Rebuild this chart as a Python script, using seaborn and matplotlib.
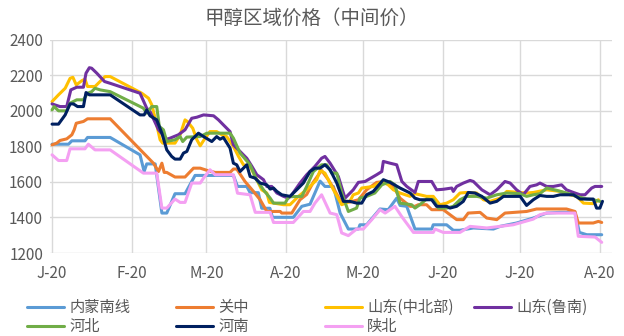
import matplotlib
matplotlib.use("Agg")
import matplotlib.pyplot as plt
import seaborn as sns
import pandas as pd

# Regional methanol mid prices, 2020. x = days since 1 Jan 2020.
regions = ["内蒙南线", "关中", "山东(中北部)", "山东(鲁南)", "河北", "河南", "陕北"]
colors = ["#5B9BD5", "#ED7D31", "#FFC000", "#7030A0", "#70AD47", "#002060", "#F4A0F2"]

month_days = [0, 31, 60, 91, 121, 152, 182, 213]
month_labels = ["J-20", "F-20", "M-20", "A-20", "M-20", "J-20", "J-20", "A-20"]

neimeng_days = [0, 6.4, 7.7, 12.8, 13.8, 22.6, 34.2, 35.8, 36.8, 40.1, 42.7, 44.6, 47.8, 51.7,
                55.6, 70.5, 72.1, 75.7, 77.0, 80.2, 81.5, 84.7, 85.7, 93.8, 97.1, 100.3, 104.2,
                106.1, 109.4, 112, 115.2, 119.1, 119.7, 122.3, 127.5, 130.7, 134, 135.3, 137.9,
                141.1, 147.6, 148.2, 153.4, 156, 158.6, 163.8, 171.6, 174.2, 180.6, 187.1, 192.3,
                197.5, 203.3, 205, 207.9, 213.7]
neimeng_price = [1813, 1813, 1832, 1832, 1851, 1851, 1753, 1659, 1702, 1702, 1425, 1425, 1534, 1534,
                 1637, 1637, 1575, 1575, 1540, 1540, 1452, 1452, 1401, 1401, 1463, 1475, 1605,
                 1575, 1575, 1425, 1335, 1335, 1359, 1359, 1448, 1444, 1509, 1468, 1463,
                 1335, 1335, 1359, 1359, 1328, 1328, 1341, 1335, 1350, 1369, 1397, 1425,
                 1429, 1429, 1316, 1303, 1303]

guanzhong_days = [0, 1.8, 3.1, 5.7, 7.7, 8.6, 9.4, 12.2, 13.8, 22.6, 39.4, 41.4, 42.7, 43.6, 44.6,
                  47.8, 51.7, 55, 57.6, 60.8, 63.4, 69.2, 70.5, 71.8, 75, 78.3, 80.9, 83.5, 88.7,
                  89.3, 93.2, 96.4, 99, 101.6, 104.8, 107.4, 109.4, 112.6, 114.5, 115.8, 119.1,
                  122.3, 126.2, 129.5, 132.7, 135.3, 139.2, 141.1, 142.4, 145.6, 147.6, 152.1,
                  157.3, 159.9, 161.8, 166.4, 169, 172.9, 176.1, 184.5, 188.4, 200, 203.3, 204.6,
                  210.4, 212.4, 213.7]
guanzhong_price = [1809, 1819, 1834, 1843, 1866, 1894, 1931, 1941, 1956, 1956, 1706, 1659, 1706, 1654,
                   1654, 1628, 1628, 1678, 1678, 1663, 1654, 1654, 1673, 1673, 1603, 1547, 1500,
                   1434, 1434, 1425, 1425, 1500, 1530, 1600, 1665, 1613, 1566, 1481, 1491, 1487,
                   1500, 1556, 1598, 1603, 1575, 1509, 1463, 1463, 1472, 1472, 1444, 1444, 1388,
                   1388, 1425, 1429, 1397, 1388, 1425, 1434, 1448, 1448, 1434, 1369, 1369, 1378,
                   1372]

sd_north_days = [0, 2.5, 5.1, 7, 8.1, 9.4, 11.6, 12.8, 13.8, 16.7, 20.6, 22.6, 34.9, 37.5, 38.8,
                 40.7, 42, 43, 47.8, 49.8, 51.7, 52.6, 54.7, 56.3, 57.6, 59.1, 61.4, 64, 66, 67.9,
                 70.5, 72.5, 74.4, 77, 79.6, 81.5, 83.5, 84.5, 90, 92.5, 95.8, 99.7, 102.9, 104.2,
                 106.1, 109.4, 112.6, 115.8, 117.1, 119.1, 120.4, 124.9, 128.2, 130.7, 132.7,
                 135.3, 139.2, 141.1, 143, 145.6, 148.2, 150.8, 153.4, 156, 158.6, 161.2, 165.1,
                 167.7, 170.3, 174.2, 176.8, 184.5, 187.1, 192.3, 197.5, 201.4, 204, 206.6, 210.4,
                 212.4]
sd_north_price = [2053, 2091, 2128, 2184, 2190, 2147, 2171, 2179, 2138, 2138, 2194, 2194, 2100, 2072,
                  2034, 1922, 1838, 1819, 1819, 1866, 1950, 1941, 1903, 1838, 1804, 1838, 1884, 1884,
                  1866, 1856, 1800, 1744, 1697, 1688, 1613, 1556, 1538, 1485, 1472, 1472, 1519,
                  1566, 1613, 1665, 1650, 1556, 1472, 1491, 1528, 1538, 1566, 1575, 1603, 1584,
                  1556, 1538, 1519, 1534, 1528, 1519, 1519, 1472, 1481, 1500, 1538, 1541, 1538,
                  1500, 1491, 1509, 1547, 1538, 1541, 1556, 1547, 1528, 1519, 1481, 1478, 1500]

sd_lunan_days = [0, 1.2, 3.1, 5.7, 7.3, 9.6, 12.2, 13.2, 14.5, 15.4, 17.4, 20.4, 22.6, 34.2, 36.8,
                 38.1, 41.4, 44.6, 45.9, 49.1, 51.7, 54.3, 56.3, 58.9, 62.8, 64.7, 66.6, 69.2, 70.5,
                 73.1, 75.7, 77.7, 79.6, 82.2, 83.5, 85.4, 87.4, 90, 91.9, 93.2, 96.4, 99, 102.2,
                 104.8, 106.1, 108.1, 111.3, 113.9, 117.1, 119.1, 121.7, 126.2, 128.2, 128.8, 131.4,
                 134, 136, 137.9, 141.1, 142.4, 147.6, 149.5, 152.1, 155.4, 156, 157.3, 159.9,
                 162.5, 163.8, 167.1, 170.3, 172.9, 176.1, 178.1, 180.6, 183.2, 185.8, 188.4,
                 189.7, 192.3, 194.9, 198.1, 200, 202.7, 205.3, 207.2, 209.8, 211.1, 213.7]
sd_lunan_price = [2040, 2034, 2025, 2025, 2119, 2134, 2134, 2213, 2244, 2241, 2213, 2166, 2156, 2100,
                  2016, 1997, 1894, 1841, 1847, 1866, 1894, 1959, 1965, 1978, 1973, 1950, 1922, 1884,
                  1809, 1772, 1734, 1688, 1641, 1613, 1575, 1575, 1538, 1519, 1509, 1528, 1594,
                  1641, 1688, 1734, 1744, 1706, 1631, 1509, 1556, 1598, 1603, 1641, 1659, 1716,
                  1706, 1697, 1603, 1575, 1541, 1603, 1603, 1556, 1559, 1566, 1547, 1575, 1594,
                  1609, 1603, 1556, 1528, 1556, 1603, 1594, 1556, 1528, 1575, 1584, 1594, 1575,
                  1575, 1584, 1556, 1541, 1528, 1528, 1566, 1575, 1575]

hebei_days = [0, 0.8, 2.5, 5.7, 7, 9.6, 12.2, 13.8, 15.4, 16.7, 18.7, 22.6, 35.5, 36.8, 38.8, 40.7,
              41.7, 43.3, 44.6, 47.8, 49.8, 50.8, 52.4, 57.6, 60.2, 69.2, 70.5, 73.1, 77, 79.6,
              82.2, 84.8, 86.1, 90.6, 92.0, 97.1, 99, 101.6, 104.8, 106.8, 108.7, 110.7, 112.6,
              115.2, 118.4, 119.7, 122.3, 125.5, 128.2, 131.4, 133.3, 135.3, 139.8, 141.1, 143,
              145.6, 148.2, 150.2, 153.4, 156, 158.6, 161.2, 165.1, 169, 172.9, 176.8, 182, 184.5,
              187.1, 189.7, 192.3, 196.2, 200, 204, 207.9, 210.4, 213]
hebei_price = [2006, 2025, 2001, 2001, 2044, 2063, 2063, 2100, 2109, 2128, 2119, 2109, 2016, 1988,
               2025, 2025, 1913, 1894, 1828, 1838, 1856, 1828, 1853, 1856, 1875, 1875, 1847, 1763,
               1697, 1610, 1556, 1509, 1481, 1481, 1517, 1519, 1575, 1659, 1697, 1697, 1650, 1650,
               1538, 1434, 1453, 1509, 1519, 1538, 1584, 1603, 1584, 1481, 1472, 1453, 1472,
               1504, 1500, 1453, 1453, 1463, 1500, 1519, 1519, 1509, 1528, 1538, 1534, 1519,
               1528, 1534, 1566, 1553, 1538, 1519, 1504, 1500, 1491]

henan_days = [0, 2.5, 5.1, 7, 8.3, 9.9, 12.2, 13.2, 14.5, 22.6, 34.2, 35.8, 36.8, 38.1, 40.7, 42.7,
              44.6, 46.5, 47.8, 49.8, 51.1, 52.4, 54.3, 56.9, 58.9, 62.1, 64, 65.3, 66.6, 69.2, 70.5,
              71.8, 73.1, 75.7, 77, 78.9, 80.9, 83.5, 84.8, 86.1, 87.4, 89.3, 92.5, 95.1, 97.7,
              100.3, 102.2, 104.2, 106.1, 108.1, 110.7, 113.3, 115.8, 118.4, 120.4, 122.3, 124.9,
              128.8, 131.4, 135.3, 139.2, 141.1, 143, 147.6, 149.5, 153.4, 154.7, 157.3, 159.9,
              161.8, 164.4, 167.1, 170.3, 172.9, 175.5, 182, 184.5, 187.1, 189.7, 192.3, 194.9,
              197.5, 202.7, 205.3, 210.4, 211.7, 213, 214]
henan_price = [1926, 1926, 1978, 2040, 2040, 2025, 2025, 2104, 2091, 2091, 1978, 1978, 2006, 1973,
               1950, 1875, 1781, 1744, 1729, 1729, 1763, 1772, 1838, 1875, 1856, 1828, 1856, 1841,
               1851, 1791, 1706, 1697, 1659, 1697, 1631, 1622, 1594, 1584, 1560, 1566, 1547, 1528,
               1519, 1556, 1594, 1659, 1678, 1678, 1697, 1669, 1594, 1491, 1491, 1481, 1481,
               1528, 1547, 1613, 1598, 1566, 1538, 1509, 1500, 1500, 1463, 1463, 1453, 1463,
               1491, 1541, 1538, 1519, 1481, 1491, 1519, 1519, 1468, 1500, 1524, 1519, 1519,
               1528, 1528, 1504, 1504, 1453, 1453, 1491]

shanbei_days = [0, 2.5, 5.7, 7, 12.8, 14.1, 16.7, 22.6, 35.5, 40.7, 42.7, 44.6, 47.8, 49.8, 51.7,
                54.3, 57.6, 58.9, 61.4, 63.4, 70.5, 72.1, 77, 79, 84.8, 86.1, 93.8, 97.7, 100.3,
                102.2, 104.8, 108.1, 110.7, 112.6, 115.2, 118.4, 121, 124.3, 127.5, 129.5, 133.3,
                135.9, 140.5, 148.2, 148.9, 152.1, 158.6, 162.5, 169, 174.2, 179.3, 187.1, 189.7,
                192.3, 203.3, 204.6, 211.1, 213.7]
shanbei_price = [1753, 1721, 1721, 1787, 1787, 1813, 1781, 1781, 1650, 1650, 1453, 1453, 1504, 1485,
                 1485, 1594, 1594, 1622, 1669, 1641, 1641, 1537, 1528, 1429, 1429, 1372, 1372,
                 1434, 1434, 1481, 1528, 1425, 1416, 1313, 1298, 1335, 1335, 1388, 1444, 1425,
                 1463, 1406, 1316, 1316, 1335, 1316, 1316, 1350, 1341, 1350, 1359, 1391, 1416,
                 1425, 1425, 1294, 1290, 1260]

series_days = [neimeng_days, guanzhong_days, sd_north_days, sd_lunan_days,
               hebei_days, henan_days, shanbei_days]
series_price = [neimeng_price, guanzhong_price, sd_north_price, sd_lunan_price,
                hebei_price, henan_price, shanbei_price]

df = pd.concat(
    [pd.DataFrame({"day": d, "price": p, "region": r})
     for r, d, p in zip(regions, series_days, series_price)],
    ignore_index=True,
)

sns.set_theme(style="white")
plt.rcParams["font.family"] = ["Noto Sans CJK SC", "DejaVu Sans"]

text_grey = "#595959"
grid_grey = "#D9D9D9"

fig = plt.figure(figsize=(6.24, 3.36), dpi=100)
ax = fig.add_axes([50 / 624, 83 / 336, 562 / 624, 213 / 336])

sns.lineplot(data=df, x="day", y="price", hue="region", hue_order=regions,
             palette=colors, estimator=None, sort=False, linewidth=2.2,
             legend=False, ax=ax)

ax.set_xlim(-0.8, 217.7)
ax.set_ylim(1200, 2400)
ax.set_yticks(range(1200, 2401, 200))
ax.set_xticks(month_days)
ax.set_xticklabels(month_labels)
ax.set_xlabel("")
ax.set_ylabel("")
for s in ax.spines.values():
    s.set_visible(False)
ax.grid(True, color=grid_grey, linewidth=1.0)
ax.set_axisbelow(True)
ax.tick_params(axis="y", length=0, pad=5, labelsize=11, labelcolor=text_grey)
ax.tick_params(axis="x", length=4.3, width=1.0, color=grid_grey, pad=4,
               labelsize=11, labelcolor=text_grey)

fig.text(0.5, 1 - 18 / 336, "甲醇区域价格（中间价）", ha="center", va="center",
         fontsize=14, color=text_grey)

# Legend laid out as four fixed-width columns, filled row by row
lines = ax.get_lines()
columns = [[0, 4], [1, 5], [2, 6], [3]]
col_x = [27, 176, 325, 474]
for idx, x0 in zip(columns, col_x):
    fig.legend([lines[i] for i in idx], [regions[i] for i in idx],
               loc="upper left", bbox_to_anchor=(x0 / 624, 1 - 299 / 336),
               frameon=False, fontsize=11, handlelength=2.42, handletextpad=0.33,
               labelspacing=0.15, borderpad=0, borderaxespad=0, labelcolor=text_grey)

fig.savefig("out.png", dpi=100)
